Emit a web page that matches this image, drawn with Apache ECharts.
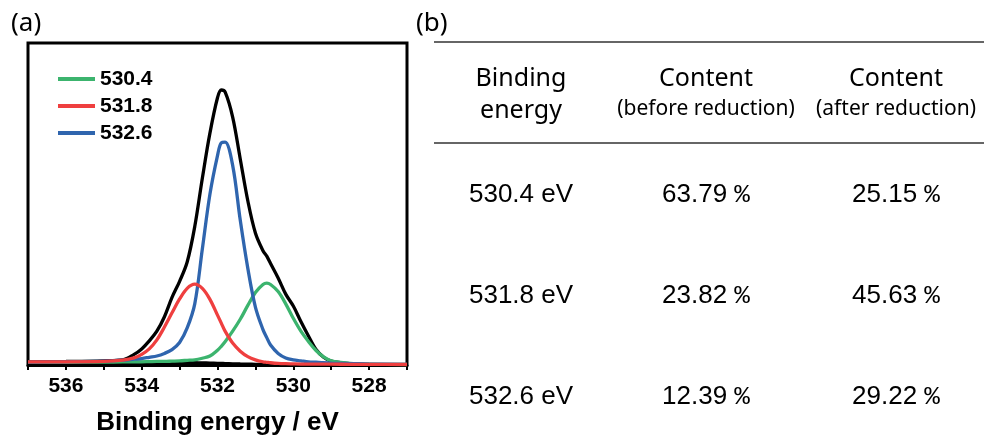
<!DOCTYPE html>
<html>
<head>
<meta charset="utf-8">
<script src="https://cdn.jsdelivr.net/npm/echarts@6/dist/echarts.min.js"></script>
<style>html,body{margin:0;padding:0;background:#fff;}#c{width:984px;height:441px;}</style>
</head>
<body>
<div id="c"></div>
<script>
// ---------- data ----------
const energy = [537, 536, 535, 534.5, 534.2, 534.0, 533.8, 533.6, 533.4, 533.2, 533.0, 532.8, 532.6, 532.4, 532.2, 532.0, 531.9, 531.8, 531.6, 531.4, 531.2, 531.0, 530.8, 530.7, 530.6, 530.4, 530.2, 530.0, 529.8, 529.6, 529.4, 529.2, 529.0, 528.5, 528, 527];
const envelope = [1.0, 1.1, 1.3, 1.6, 3.3, 5.0, 7.5, 10.5, 15, 21, 26, 32, 43, 58, 72, 83, 85.4, 84.8, 77, 64, 51, 41, 35.5, 33.8, 31.5, 27, 22, 18.3, 13.5, 9, 4.8, 2.4, 1.2, 0.4, 0.2, 0.1];
const backgroundLine = [0.8, 0.8, 0.8, 0.8, 0.8, 0.8, 0.8, 0.8, 0.8, 0.78, 0.75, 0.72, 0.7, 0.65, 0.6, 0.52, 0.48, 0.44, 0.38, 0.32, 0.27, 0.22, 0.2, 0.18, 0.17, 0.15, 0.14, 0.13, 0.12, 0.11, 0.1, 0.1, 0.1, 0.1, 0.1, 0.1];
const peakGreen = [0.8, 0.85, 0.9, 0.95, 1.0, 1.0, 1.05, 1.1, 1.1, 1.2, 1.3, 1.45, 1.6, 2.1, 2.8, 4.6, 5.8, 7.2, 10.5, 14.2, 18.5, 22.5, 25.0, 25.4, 25.0, 22.8, 19.0, 14.5, 10.5, 7.3, 4.5, 2.5, 1.3, 0.5, 0.25, 0.15];
const peakRed = [1.0, 1.0, 1.1, 1.5, 2.2, 3.3, 5.0, 7.8, 11.8, 16.2, 20.5, 23.8, 25.1, 23.8, 20.4, 15.5, 13.0, 10.5, 6.8, 4.3, 2.6, 1.6, 1.0, 0.85, 0.7, 0.5, 0.4, 0.35, 0.3, 0.3, 0.28, 0.26, 0.25, 0.22, 0.2, 0.15];
const peakBlue = [0.9, 1.0, 1.2, 1.5, 1.8, 2.0, 2.4, 2.8, 3.6, 4.8, 7.0, 11.5, 19, 36, 53, 65, 69, 69.2, 62, 45, 30, 18, 11, 8.5, 6.2, 3.6, 2.2, 1.6, 1.3, 1.0, 0.85, 0.7, 0.6, 0.45, 0.3, 0.2];
const peakLabels = ['530.4', '531.8', '532.6'];
const xMin = 527, xMax = 537, xStep = 1;

const headerLine1 = ['Binding', 'Content', 'Content'];
const headerLine2 = ['energy', '(before reduction)', '(after reduction)'];
const rowEnergies = ['530.4 eV', '531.8 eV', '532.6 eV'];
const contentBefore = ['63.79', '23.82', '12.39'];
const contentAfter = ['25.15', '45.63', '29.22'];

// ---------- layout / style ----------
const colGreen = '#3cb46e', colRed = '#ef3f3f', colBlue = '#2f65ae';
const colX = [521, 706, 896];
const rowY = [195, 296, 397];
const sansBold = '"Liberation Sans", Arial, sans-serif';
const headFont = '"Noto Sans", sans-serif';

const pair = (ys) => energy.map((e, i) => [e, ys[i]]);

const graphics = [];
graphics.push({type: 'text', x: 11, y: 24, style: {text: '(a)', font: '26px ' + headFont, fill: '#000', align: 'left', verticalAlign: 'middle'}});
graphics.push({type: 'text', x: 416, y: 24, style: {text: '(b)', font: '26px ' + headFont, fill: '#000', align: 'left', verticalAlign: 'middle'}});
graphics.push({type: 'line', shape: {x1: 434, y1: 42, x2: 984, y2: 42}, style: {stroke: '#333', lineWidth: 1.5}});
graphics.push({type: 'line', shape: {x1: 434, y1: 143, x2: 984, y2: 143}, style: {stroke: '#333', lineWidth: 1.5}});
headerLine1.forEach((t, i) => {
  graphics.push({type: 'text', x: colX[i], y: 79, style: {text: t, font: '25px ' + headFont, fill: '#000', align: 'center', verticalAlign: 'middle'}});
});
headerLine2.forEach((t, i) => {
  const size = i === 0 ? 25 : 21;
  graphics.push({type: 'text', x: colX[i], y: i === 0 ? 111 : 109, style: {text: t, font: size + 'px ' + headFont, fill: '#000', align: 'center', verticalAlign: 'middle'}});
});
const pctRich = {
  v: {font: '26px ' + sansBold, fill: '#000'},
  p: {font: '26px "Liberation Mono", monospace', fill: '#000'}
};
rowEnergies.forEach((t, r) => {
  graphics.push({type: 'text', x: colX[0], y: rowY[r], style: {text: t, font: '26px ' + sansBold, fill: '#000', align: 'center', verticalAlign: 'middle'}});
  graphics.push({type: 'text', x: colX[1], y: rowY[r], style: {text: '{v|' + contentBefore[r] + ' }{p|%}', rich: pctRich, align: 'center', verticalAlign: 'middle'}});
  graphics.push({type: 'text', x: colX[2], y: rowY[r], style: {text: '{v|' + contentAfter[r] + ' }{p|%}', rich: pctRich, align: 'center', verticalAlign: 'middle'}});
});

const chart = echarts.init(document.getElementById('c'), null, {renderer: 'canvas'});
const lineSeries = (name, ys, color, z) => ({
  name: name, type: 'line', data: pair(ys), smooth: 0.35, showSymbol: false, symbol: 'none',
  lineStyle: {color: color, width: 3.3}, itemStyle: {color: color}, z: z, animation: false
});
chart.setOption({
  animation: false,
  backgroundColor: '#fff',
  grid: {left: 28, right: 577, top: 43, bottom: 75, show: true, borderColor: '#000', borderWidth: 3, backgroundColor: 'transparent'},
  legend: {
    data: peakLabels, orient: 'vertical', left: 58, top: 68, padding: 0, itemWidth: 37, itemHeight: 4, icon: 'rect', itemGap: 5,
    textStyle: {fontFamily: sansBold, fontWeight: 'bold', fontSize: 21, color: '#000', lineHeight: 22}
  },
  xAxis: {
    type: 'value', min: xMin, max: xMax, interval: xStep, inverse: true,
    name: 'Binding energy / eV', nameLocation: 'middle', nameGap: 45,
    nameTextStyle: {fontFamily: sansBold, fontWeight: 'bold', fontSize: 26, color: '#000'},
    axisLine: {lineStyle: {color: '#000', width: 3}},
    axisTick: {show: true, inside: false, length: 5, lineStyle: {color: '#000', width: 2}},
    axisLabel: {margin: 11, fontFamily: sansBold, fontWeight: 'bold', fontSize: 21, color: '#000',
      formatter: (v) => (Math.round(v) % 2 === 0 ? String(Math.round(v)) : '')},
    splitLine: {show: false}
  },
  yAxis: {
    type: 'value', min: 0, max: 100, show: true,
    axisLine: {show: false}, axisTick: {show: false}, axisLabel: {show: false}, splitLine: {show: false}
  },
  series: [
    lineSeries('envelope', envelope, '#000', 2),
    lineSeries('background', backgroundLine, '#000', 2),
    lineSeries(peakLabels[0], peakGreen, colGreen, 3),
    lineSeries(peakLabels[2], peakBlue, colBlue, 4),
    lineSeries(peakLabels[1], peakRed, colRed, 5)
  ],
  graphic: graphics
});
</script>
</body>
</html>
